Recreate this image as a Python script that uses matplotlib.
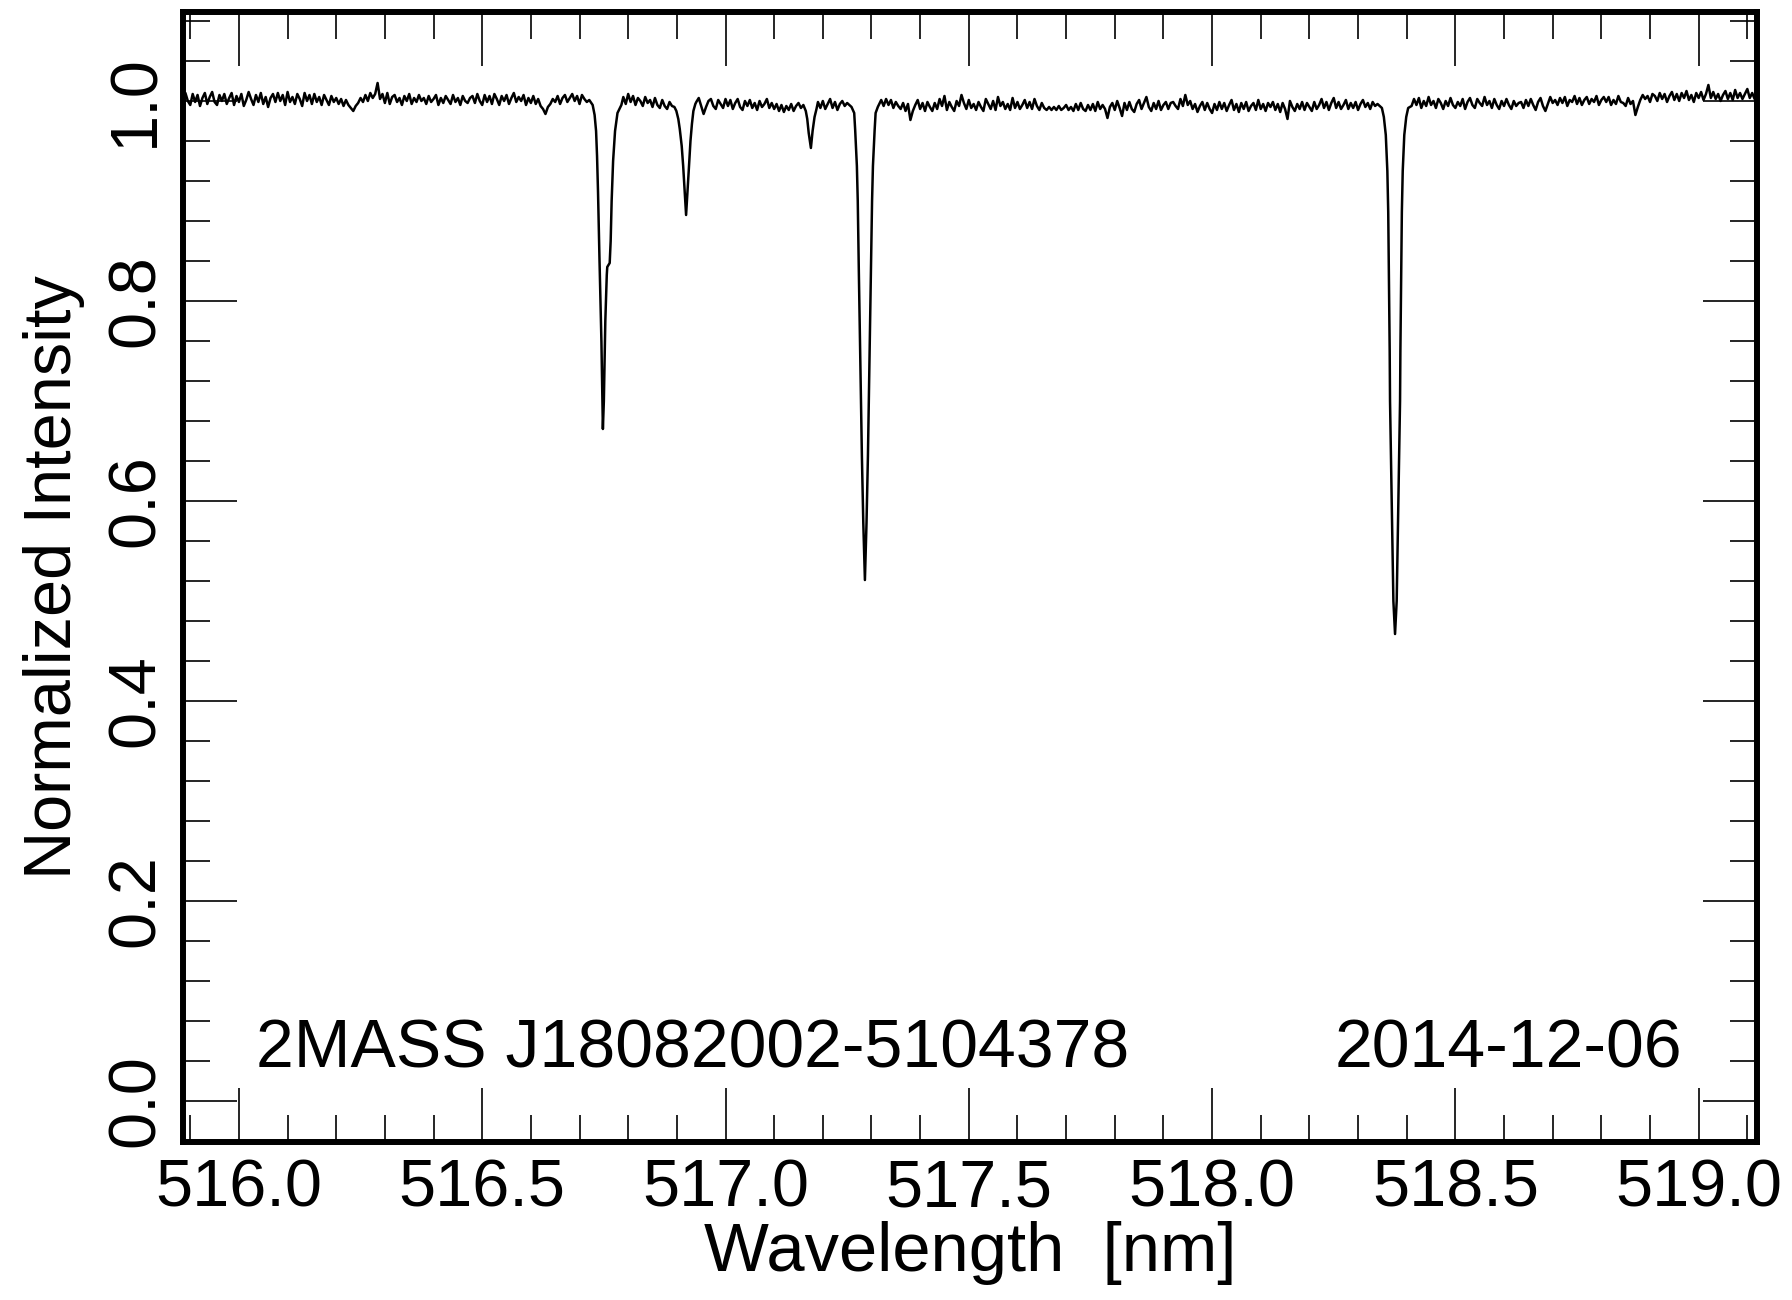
import numpy as np
import matplotlib
matplotlib.use("Agg")
import matplotlib.pyplot as plt
from matplotlib.ticker import MultipleLocator

plt.rcParams['font.family'] = ['Liberation Sans', 'DejaVu Sans']

# continuum pieces, one value every 0.005 nm,
# given as offsets from 1.0 in units of 0.001
step = 0.005
seg_a_start = 515.88
seg_a = [5, -3, 8, 0, -4, 7, -1, 6, -5, 3, 8, -3, 4, 9, -1, -4, 6, 0, 7, -3,
         3, 8, -4, 5, -1, 7, -5, 1, 9, 2, -4, 6, -1, 8, -3, 4, -6, 3, 7, -1,
         8, 0, 6, -4, 9, -1, 4, -3, 7, 2, -5, 8, 0, 6, -3, 7, -1, 4, -4, 6,
         1, -4, 5, -1, 3, -3, 2, -5, 1, -4, -7, -10, -5, -2, 3, -1, 6, 0, 8, 3,
         7, 18, 2, 7, -2, 8, -3, 4, 6, -1, 3, -4, 5, 0, 7, -3, 3, -1, 6, 0,
         3, -3, 5, -1, 2, 6, -4, 3, -2, 5, 1, -3, 6, -1, 3, -4, 5, 0, -2, 3,
         5, -2, 7, 0, -4, 6, -1, 5, -3, 7, 2, -4, 5, 0, 6, -3, 3, 8, -1, 4,
         0, 6, -4, 3, -2, 5, -3, 2, -5, -8, -13, -6, -3, 2, -1, 5, -3, 3, 6, -1,
         3, 7, 0, 5, -3, 6, 2, -1, 1]
seg_b_start = 516.79
seg_b = [4, -3, 7, -1, 5, -4, 3, 0, -5, 4, -2, 1, -6, 3, -4, -7, 1, -5, -8, -1, -5]
seg_c_start = 516.94
seg_c = [-1, 3, -5, -13, -6, 0, 2, -5, -8, 1, -3, -7, 2, -5, 1, -8, -2, 2, -6, -9,
         0, -5, 1, -7, -2, -9, 0, -6, -3, 2, -7, -2, -8, -3, -10, -4, -11, -5, -9, -3,
         -10, -5, -2, -7, -4]
seg_d_start = 517.19
seg_d = [-1, -7, 0, -8, -3, 2, -7, -1, -9, -3, 0, -5, -2]
seg_e_start = 517.32
seg_e = [1, -5, 2, -4, 1, -7, -1, -5, -8, -2, -10, -3, -19, -10, -4, 1, -8, -2, -10, -1,
         -6, -10, -2, -8, 2, -5, 5, -9, -1, -6, -10, 0, -5, 6, -2, -8, 1, -7, -3, -9,
         -1, -6, -10, 2, -3, -8, 0, -9, 4, -5, -1, -8, -3, -9, 3, -7, -1, -8, -4, 1,
         -7, -1, -8, 2, -5, -9, -2, -7, -9, -6, -9, -6, -9, -5, -9, -7, -4, -9, -6, -10,
         -3, -9, -2, -8, -10, -4, -9, -3, -10, -1, -8, -4, -8, -17, -6, -2, -9, 0, -7, -15,
         -2, -9, -1, -8, -11, -3, 1, -8, -2, 4, -6, -10, -2, -8, 0, -9, -4, -1, -8, -2,
         -1, -5, -8, 2, -5, 6, -4, 0, -8, -3, -11, -5, -1, -9, -2, -8, -12, -3, -9, -1,
         -8, -2, -10, -4, 1, -9, -3, -11, -2, -8, -1, -10, -5, -2, -9, 1, -8, -3, -10, -2,
         -6, -1, -9, -3, -11, -2, -8, -18, 0, -6, -10, -3, -8, -1, -9, -2, -6, -10, -1, -8,
         -4, 2, -7, -1, -9, -2, 3, -7, -1, -8, -4, 1, -8, -2, -7, -1, -9, -3, 1, -6,
         -2, -8, -1, -5, -3]
seg_f_start = 518.41
seg_f = [-5, 2, -4, 3, -7, 0, -5, 4, -4, 0, -7, 2, -2, -8, 0, -5, 3, -4, -7, -1,
         -5, 2, -8, -1, 3, -4, -7, 2, -2, -5, 4, -4, 0, -7, 2, -4, -8, 0, -5, 2,
         -4, -8, 0, -5, -2, -1, -7, 1, -5, 2, -4, -9, -1, 3, -5, -10, -3, 4, -2, 1,
         -4, 3, -2, 4, -5, 1, -1, 5, -3, 3, -4, 1, 4, -3, 2, -1, 5, -4, 1, 4,
         -1, 4, -4, 1, -3, 5, -1, -2, -5, 3, -3, 0, -14, -6, 1, 6, 2, 5, -1, 7,
         5, 0, 8, 2, 7, -1, 5, 9, 1, 7, 0, 8, 3, 10, 1, 6, -1, 8, 3, 9,
         1, 7, 16, 3, 9, 2, 7, 0, 6, 10, 2, 8, 1, 11, 3, 8, 2, 7, 12, 3,
         8, 2, 7]

# absorption lines
line1_wl = [516.727, 516.731, 516.734, 516.736, 516.738, 516.741, 516.745, 516.748,
            516.750, 516.753, 516.756, 516.757, 516.762, 516.764, 516.766, 516.769,
            516.773, 516.778, 516.786]
line1_val = [0.996, 0.986, 0.970, 0.945, 0.909, 0.842, 0.759, 0.672,
             0.700, 0.780, 0.826, 0.834, 0.838, 0.860, 0.900, 0.940,
             0.970, 0.988, 0.996]
line2_wl = [516.895, 516.899, 516.903, 516.906, 516.910, 516.913, 516.916, 516.919,
            516.922, 516.925, 516.928, 516.931, 516.934, 516.938]
line2_val = [0.994, 0.990, 0.982, 0.972, 0.955, 0.935, 0.910, 0.886,
             0.910, 0.935, 0.960, 0.977, 0.990, 0.997]
line3_wl = [517.165, 517.168, 517.171, 517.1755, 517.179, 517.183, 517.187]
line3_val = [0.990, 0.982, 0.968, 0.953, 0.970, 0.984, 0.992]
line4_wl = [517.259, 517.2645, 517.2665, 517.270, 517.2718, 517.274, 517.277, 517.2803,
            517.2832, 517.2865, 517.2898, 517.2927, 517.296, 517.299, 517.3012, 517.303,
            517.3065, 517.3085, 517.313]
line4_val = [0.994, 0.988, 0.971, 0.935, 0.900, 0.830, 0.742, 0.645,
             0.578, 0.521, 0.578, 0.645, 0.742, 0.830, 0.900, 0.935,
             0.971, 0.988, 0.994]
line5_wl = [518.349, 518.353, 518.357, 518.3602, 518.362, 518.3635, 518.365, 518.3657,
            518.3691, 518.3726, 518.376, 518.3794, 518.3829, 518.3863, 518.387, 518.3885,
            518.390, 518.3918, 518.395, 518.399, 518.403]
line5_val = [0.993, 0.984, 0.966, 0.930, 0.889, 0.820, 0.750, 0.700,
             0.600, 0.500, 0.467, 0.500, 0.600, 0.700, 0.750, 0.820,
             0.889, 0.930, 0.966, 0.984, 0.993]

star_name = "2MASS J18082002-5104378"
obs_date = "2014-12-06"


def seg(start, offs):
    wl = start + step * np.arange(len(offs))
    return wl, 1.0 + np.array(offs) / 1000.0


pieces = [seg(seg_a_start, seg_a), (line1_wl, line1_val),
          seg(seg_b_start, seg_b), (line2_wl, line2_val),
          seg(seg_c_start, seg_c), (line3_wl, line3_val),
          seg(seg_d_start, seg_d), (line4_wl, line4_val),
          seg(seg_e_start, seg_e), (line5_wl, line5_val),
          seg(seg_f_start, seg_f)]
wave = np.concatenate([np.asarray(p[0]) for p in pieces])
flux = np.concatenate([np.asarray(p[1]) for p in pieces])

fig = plt.figure(figsize=(17.92, 13), dpi=100)
ax = fig.add_axes([0.1021, 0.1215, 0.8784, 0.8689])

ax.plot(wave, flux, color='black', lw=1.8)

ax.set_xlim(515.885, 519.12)
ax.set_ylim(-0.041, 1.0885)

ax.xaxis.set_major_locator(MultipleLocator(0.5))
ax.xaxis.set_minor_locator(MultipleLocator(0.1))
ax.yaxis.set_major_locator(MultipleLocator(0.2))
ax.yaxis.set_minor_locator(MultipleLocator(0.04))
ax.xaxis.set_major_formatter(plt.FormatStrFormatter('%.1f'))
ax.yaxis.set_major_formatter(plt.FormatStrFormatter('%.1f'))

ax.tick_params(which='both', direction='in', top=True, right=True,
               width=1.2, color='black', labelsize=48)
ax.tick_params(which='major', length=39)
ax.tick_params(which='minor', length=19.5)
ax.tick_params(axis='x', pad=12)
ax.tick_params(axis='y', pad=11)
for lab in ax.get_yticklabels():
    lab.set_rotation(90)
    lab.set_va('center')

for sp in ax.spines.values():
    sp.set_linewidth(4.3)

ax.set_xlabel("Wavelength  [nm]", fontsize=49.5)
ax.set_ylabel("Normalized Intensity", fontsize=48)
ax.xaxis.set_label_coords(0.5, -0.070)
ax.yaxis.set_label_coords(-0.062, 0.5)

ax.text(516.035, 0.034, star_name, fontsize=49, ha='left', va='baseline')
ax.text(518.967, 0.034, obs_date, fontsize=49, ha='right', va='baseline')

fig.savefig("out.png", dpi=100)
